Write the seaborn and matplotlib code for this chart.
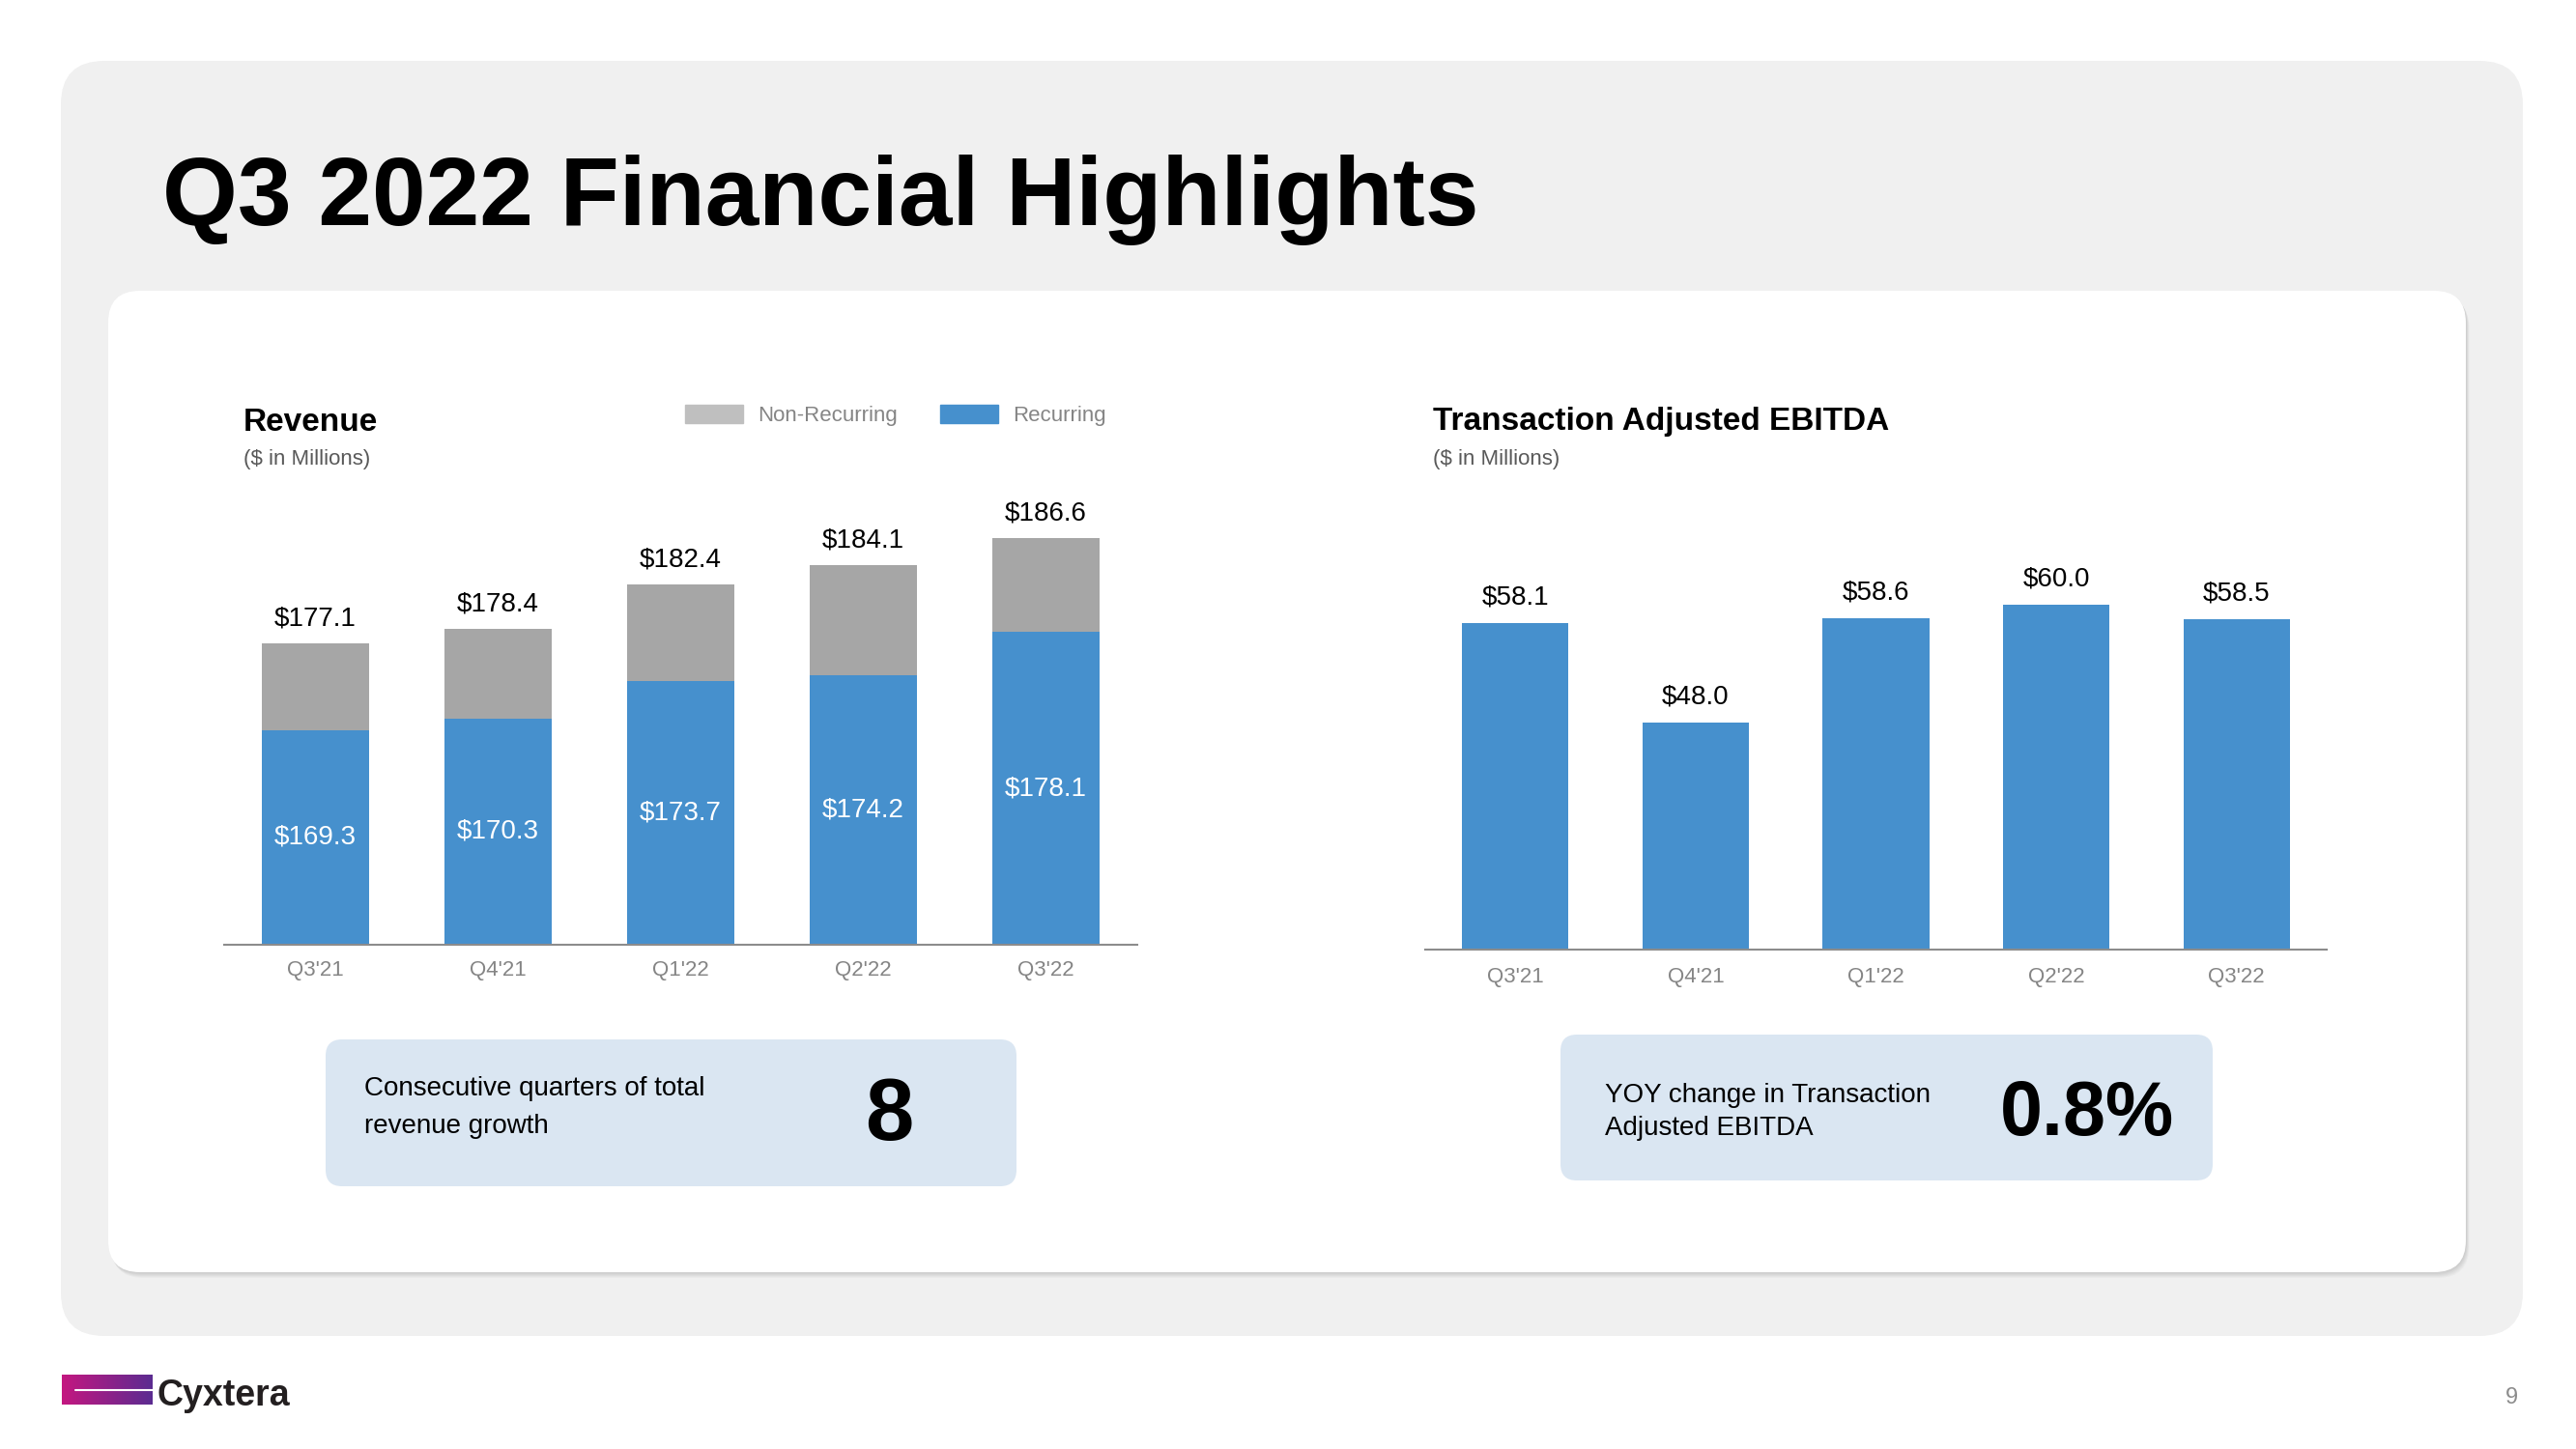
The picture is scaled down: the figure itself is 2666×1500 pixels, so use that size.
import numpy as np
import pandas as pd
import seaborn as sns
import matplotlib.pyplot as plt
from matplotlib.patches import FancyBboxPatch, Patch
from matplotlib.transforms import Affine2D

# Values ($ in millions)
quarters = ["Q3'21", "Q4'21", "Q1'22", "Q2'22", "Q3'22"]
rev_total = [177.1, 178.4, 182.4, 184.1, 186.6]
rev_recurring = [169.3, 170.3, 173.7, 174.2, 178.1]
ebitda = [58.1, 48.0, 58.6, 60.0, 58.5]

growth_text = ["Consecutive quarters of total", "revenue growth"]
growth_value = "8"
yoy_text = ["YOY change in Transaction", "Adjusted EBITDA"]
yoy_value = "0.8%"

# Colours
BLUE = "#4690cd"
GRAY = "#a6a6a6"
LEGEND_GRAY = "#bfbfbf"
TICK_GRAY = "#858585"
SUB_GRAY = "#595959"
BOX_BLUE = "#dae6f2"
PANEL = "#f0f0f0"

W, H = 2666, 1500

sns.set_theme(style="white")
plt.rcParams["font.family"] = ["Liberation Sans", "DejaVu Sans"]

fig = plt.figure(figsize=(W / 100, H / 100), dpi=100)
fig.patch.set_facecolor("white")

# pixel coordinates, origin top-left
px = Affine2D().scale(1, -1).translate(0, H).scale(1 / 100) + fig.dpi_scale_trans


def rbox(x, y, w, h, r, fc, alpha=1.0, z=-5):
    p = FancyBboxPatch((x, y), w, h, boxstyle=f"round,pad=0,rounding_size={r}",
                       transform=px, fc=fc, ec="none", alpha=alpha, zorder=z)
    fig.patches.append(p)


def add_ax(left, bottom, width, height):
    return fig.add_axes([left / W, 1 - bottom / H, width / W, height / H])


# background panels
rbox(63, 63, 2548, 1320, 45, PANEL, z=-10)
for k in range(1, 7):
    rbox(112 + 0.6 * k, 301 + k, 2440, 1016, 33, "black", alpha=0.022, z=-9)
rbox(112, 301, 2440, 1016, 33, "white", z=-8)
rbox(337, 1076, 715, 152, 17, BOX_BLUE)
rbox(1615, 1071, 675, 151, 17, BOX_BLUE)

fig.text(168, 233, "Q3 2022 Financial Highlights", transform=px, fontsize=72,
         fontweight="bold", color="black", va="baseline")


def style_axis(ax):
    for s in ["top", "right", "left"]:
        ax.spines[s].set_visible(False)
    ax.spines["bottom"].set_color("#8c8c8c")
    ax.spines["bottom"].set_linewidth(1.5)
    ax.set_facecolor("none")
    ax.set_yticks([])
    ax.set_xlabel("")
    ax.set_ylabel("")
    ax.set_xlim(-0.5, 4.5)
    ax.tick_params(axis="x", length=0, pad=11.5, labelsize=16, labelcolor=TICK_GRAY)


# Revenue chart
rev_floor, rev_top = 150, 192
df_rev = pd.DataFrame({"quarter": quarters, "total": rev_total, "recurring": rev_recurring})
ax1 = add_ax(232, 977.6, 945, (rev_top - rev_floor) * 11.5)
sns.barplot(data=df_rev, x="quarter", y="total", color=GRAY, saturation=1,
            width=0.59, errorbar=None, linewidth=0, ax=ax1)
sns.barplot(data=df_rev, x="quarter", y="recurring", color=BLUE, saturation=1,
            width=0.59, errorbar=None, linewidth=0, ax=ax1)
ax1.set_ylim(rev_floor, rev_top)
style_axis(ax1)
ax1.bar_label(ax1.containers[0], fmt="${:.1f}", padding=9, fontsize=20, color="black")
for i, r in enumerate(rev_recurring):
    ax1.text(i, (rev_floor + r) / 2, f"${r:.1f}", ha="center", va="center",
             fontsize=20, color="white")

ax1.legend(handles=[Patch(color=LEGEND_GRAY, label="Non-Recurring"),
                    Patch(color=BLUE, label="Recurring")],
           loc="center left", bbox_to_anchor=(709, 430), bbox_transform=px,
           ncol=2, frameon=False, borderpad=0, borderaxespad=0,
           handlelength=2.7, handleheight=0.9, handletextpad=0.68,
           columnspacing=2.0, fontsize=16, labelcolor=TICK_GRAY)

fig.text(252, 445.5, "Revenue", transform=px, fontsize=24, fontweight="bold",
         color="black", va="baseline")
fig.text(252, 480.6, "($ in Millions)", transform=px, fontsize=16,
         color=SUB_GRAY, va="baseline")

# Transaction Adjusted EBITDA chart
eb_floor, eb_top = 25, 65
df_eb = pd.DataFrame({"quarter": quarters, "ebitda": ebitda})
ax2 = add_ax(1475, 982.7, 933, (eb_top - eb_floor) * 10.2)
sns.barplot(data=df_eb, x="quarter", y="ebitda", color=BLUE, saturation=1,
            width=0.59, errorbar=None, linewidth=0, ax=ax2)
ax2.set_ylim(eb_floor, eb_top)
style_axis(ax2)
ax2.tick_params(axis="x", pad=13)
ax2.bar_label(ax2.containers[0], fmt="${:.1f}", padding=9.5, fontsize=20, color="black")

fig.text(1483, 445.5, "Transaction Adjusted EBITDA", transform=px, fontsize=24,
         fontweight="bold", color="black", va="baseline")
fig.text(1483, 480.6, "($ in Millions)", transform=px, fontsize=16,
         color=SUB_GRAY, va="baseline")

# call-out boxes
for j, line in enumerate(growth_text):
    fig.text(377, 1133.8 + 38.9 * j, line, transform=px, fontsize=20,
             color="black", va="baseline")
fig.text(920, 1180, growth_value, transform=px, fontsize=65, fontweight="bold",
         color="black", ha="center", va="baseline")

for j, line in enumerate(yoy_text):
    fig.text(1661, 1140.6 + 34 * j, line, transform=px, fontsize=20,
             color="black", va="baseline")
fig.text(2160, 1175, yoy_value, transform=px, fontsize=57, fontweight="bold",
         color="black", ha="center", va="baseline")

# logo
lax = add_ax(64, 1454, 94, 31)
c0 = np.array([0xc4, 0x17, 0x80]) / 255
c1 = np.array([0x5b, 0x2c, 0x91]) / 255
t = np.linspace(0, 1, 200)[None, :, None]
lax.imshow(c0 + (c1 - c0) * t, aspect="auto", extent=[0, 1, 0, 1])
lax.plot([0.15, 1], [0.5, 0.5], color="white", lw=1.5)
lax.set_xlim(0, 1)
lax.set_ylim(0, 1)
lax.axis("off")
fig.text(163, 1455, "Cyxtera", transform=px, fontsize=27, fontweight="bold",
         color="#231f20", va="baseline")

fig.text(2599, 1453, "9", transform=px, fontsize=17, color="#8c8c8c",
         ha="center", va="baseline")

fig.savefig("out.png", dpi=100)
